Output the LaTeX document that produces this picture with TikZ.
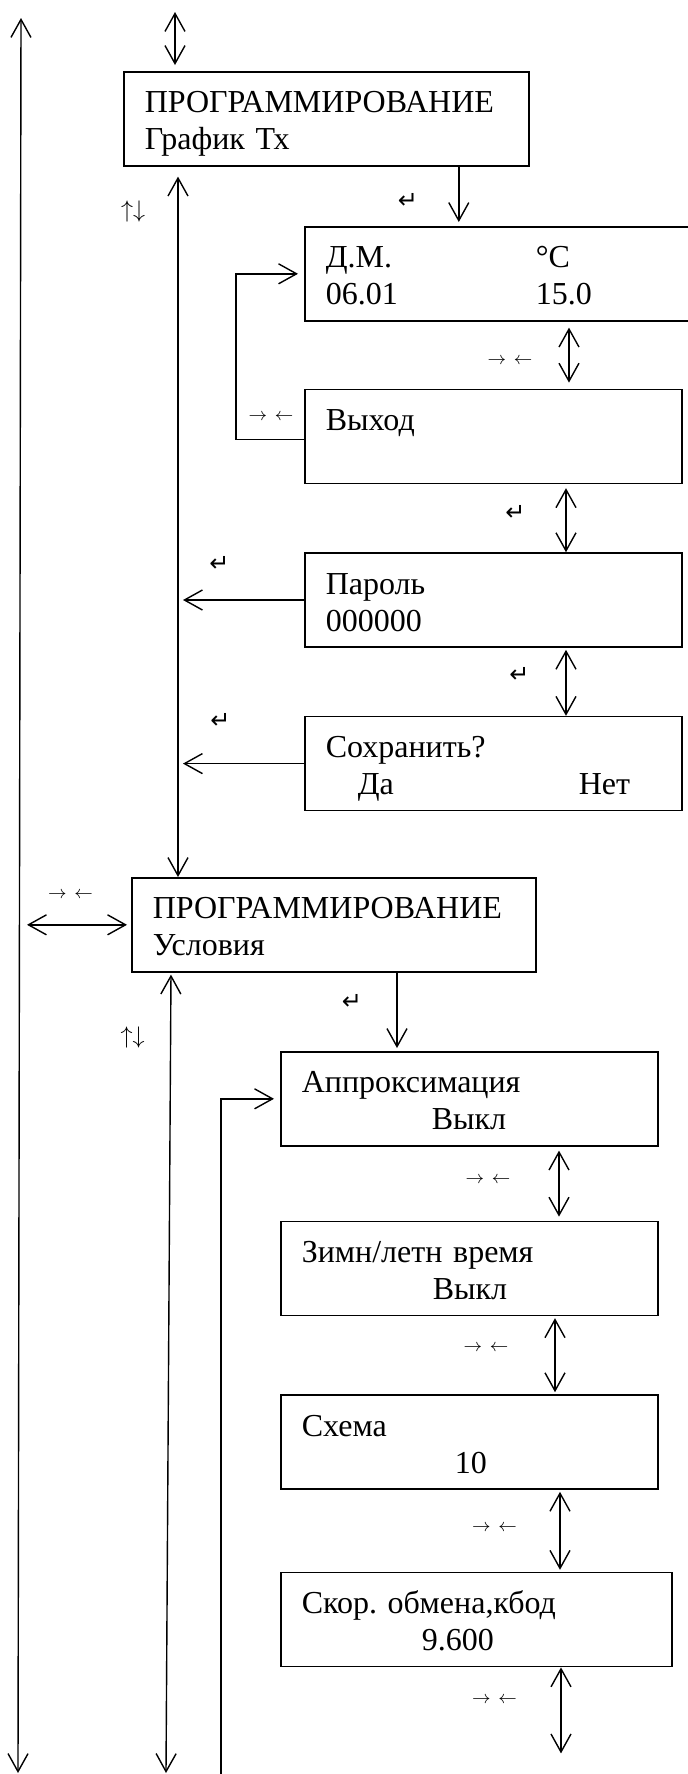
\documentclass[tikz,border=0pt]{standalone}
\usepackage{fontspec}
\setmainfont{Liberation Serif}
\newfontfamily\retfont{DejaVu Sans}
\usepackage{tikz}
\usetikzlibrary{arrows.meta, positioning}
\tikzset{
    screen/.style = {rectangle, draw=black, line width=0.8pt, inner xsep=10.5pt, inner ysep=0pt, text width=#1, align=left, minimum height=47pt, text height=13pt, text depth=19pt, font=\fontsize{16}{18.5}\selectfont},
    screen/.default = 167.5pt,
    arrow/.style = {line width=0.7pt, -{Straight Barb[length=9pt, width=10pt]}},
    dblarrow/.style = {line width=0.7pt, {Straight Barb[length=9pt, width=10pt]}-{Straight Barb[length=9pt, width=10pt]}},
    hint/.style = {inner sep=0pt, font=\fontsize{9}{10}\selectfont},
    updown/.style = {inner sep=0pt, font=\fontsize{12}{13}\selectfont},
    rethint/.style = {inner sep=0pt, font=\retfont\fontsize{12}{13}\selectfont}
}

\begin{document}
\frenchspacing
\begin{tikzpicture}[x=0.5pt, y=-0.5pt, node distance=34pt]
\useasboundingbox (0,0) rectangle (688,1774);
\node (A) [screen=181.5pt, anchor=north west] at (123,71) {ПРОГРАММИРОВАНИЕ\\График Тх};
\node (B) [screen=172pt, anchor=north west] at (304,226) {\makebox[105pt][l]{Д.М.}°C\\\makebox[105pt][l]{06.01}15.0};
\node (C) [screen, below=33.5pt of B.south west, anchor=north west] {Выход};
\node (D) [screen, below=of C.south west, anchor=north west] {Пароль\\000000};
\node (E) [screen, below=of D.south west, anchor=north west] {Сохранить?\\\hspace*{16pt}\makebox[110.5pt][l]{Да}Нет};
\node (F) [screen=181pt, anchor=north west] at (131,877) {ПРОГРАММИРОВАНИЕ\\Условия};
\node (G) [screen, anchor=north west] at (280,1051) {Аппроксимация\\\hspace*{65pt}Выкл};
\node (H) [screen, below=37pt of G.south west, anchor=north west] {Зимн/летн время\\\hspace*{65.5pt}Выкл};
\node (I) [screen, below=39pt of H.south west, anchor=north west] {Схема\\\hspace*{76.5pt}10};
\node (J) [screen=174.5pt, below=41pt of I.south west, anchor=north west] {Скор.\ обмена,кбод\\\hspace*{60pt}9.600};

\coordinate (T) at (175,12);
\coordinate (Ltop) at (21,18);
\coordinate (Lbot) at (18,1773);
\coordinate (V) at ([xshift=27.5pt]A.south west);
\coordinate (Mbot) at (166,1773);
\coordinate (Nbot) at (221,1776);
\coordinate (Jend) at ([xshift=140.5pt, yshift=-43pt]J.south west);

\draw [dblarrow] (Ltop) -- (Lbot);
\draw [dblarrow, shorten >=3pt] (T) -- (T |- A.north);
\draw [arrow, shorten >=2pt] ([xshift=66.25pt]A.south) -- ([xshift=66.25pt]A.south |- B.north);
\draw [dblarrow, shorten <=5pt] (V) -- (V |- F.north);
\draw [dblarrow, shorten <=3pt, shorten >=3pt] ([xshift=132.5pt]B.south west) -- ([xshift=132.5pt]B.south west |- C.north);
\draw [dblarrow, shorten <=2pt] ([xshift=131pt]C.south west) -- ([xshift=131pt]C.south west |- D.north);
\draw [dblarrow, shorten <=1pt] ([xshift=131pt]D.south west) -- ([xshift=131pt]D.south west |- E.north);
\draw [arrow] ([yshift=-1.5pt]C.west) -- ++(-34pt,0) |- ([xshift=-3pt]B.west);
\draw [arrow] (D.west) -- ([xshift=2.5pt]V |- D.west);
\draw [arrow] (E.west) -- ([xshift=2.5pt]V |- E.west);
\draw [dblarrow] ([xshift=3pt]Ltop |- F.west) -- ([xshift=-2pt]F.west);
\draw [arrow, shorten >=1.5pt] ([xshift=133pt]F.south west) -- ([xshift=133pt]F.south west |- G.north);
\draw [dblarrow, shorten <=1pt] ([xshift=20pt]F.south west) -- (Mbot);
\draw [arrow] (Nbot) |- ([xshift=-3pt]G.west);
\draw [dblarrow, shorten <=2pt, shorten >=2pt] ([xshift=139.5pt]G.south west) -- ([xshift=139.5pt]G.south west |- H.north);
\draw [dblarrow, shorten <=1pt, shorten >=1pt] ([xshift=137.5pt]H.south west) -- ([xshift=137.5pt]H.south west |- I.north);
\draw [dblarrow, shorten <=1pt, shorten >=1pt] ([xshift=140pt]I.south west) -- ([xshift=140pt]I.south west |- J.north);
\draw [dblarrow] ([xshift=140.5pt]J.south west) -- (Jend);

\node (r1) [rethint] at (408,200.5) {↵};
\node (u1) [updown] at (133,211.5) {$\uparrow\downarrow$};
\node (m1) [hint] at (510,361) {$\rightarrow$\hspace{4pt}$\leftarrow$};
\node (m2) [hint] at (271,417) {$\rightarrow$\hspace{4pt}$\leftarrow$};
\node (r2) [rethint] at (515.5,513) {↵};
\node (r3) [rethint] at (219.5,563.5) {↵};
\node (r4) [rethint] at (519.5,675) {↵};
\node (r5) [rethint] at (220.5,720.5) {↵};
\node (m3) [hint] at (70.5,895) {$\rightarrow$\hspace{4pt}$\leftarrow$};
\node (r6) [rethint] at (352,1001.5) {↵};
\node (u2) [updown] at (132.5,1037.5) {$\uparrow\downarrow$};
\node (m4) [hint] at (488,1180) {$\rightarrow$\hspace{4pt}$\leftarrow$};
\node (m5) [hint] at (486,1348) {$\rightarrow$\hspace{4pt}$\leftarrow$};
\node (m6) [hint] at (494.5,1528) {$\rightarrow$\hspace{4pt}$\leftarrow$};
\node (m7) [hint] at (494.5,1700) {$\rightarrow$\hspace{4pt}$\leftarrow$};
\end{tikzpicture}
\end{document}
